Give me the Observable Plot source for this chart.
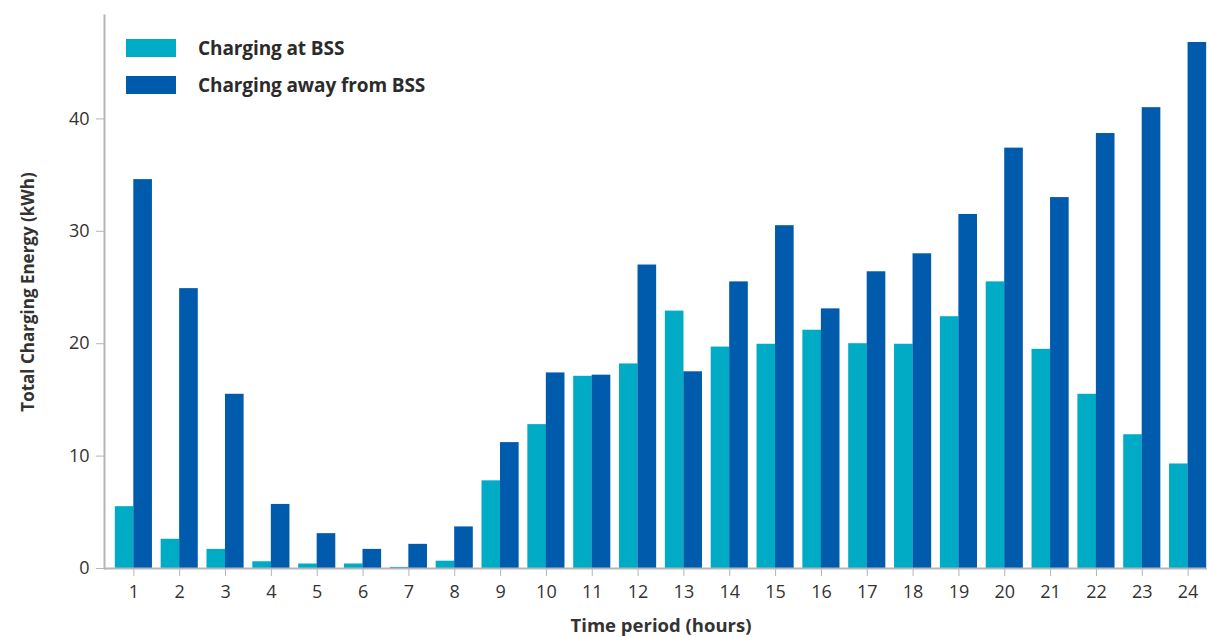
<!DOCTYPE html>
<html>
<head>
<meta charset="utf-8">
<script src="https://cdn.jsdelivr.net/npm/d3@7"></script>
<script src="https://cdn.jsdelivr.net/npm/@observablehq/plot@0.6"></script>
<style>
  html, body { margin: 0; padding: 0; background: #fff; }
  #wrap { position: relative; width: 1207px; height: 637px; overflow: hidden; font-family: "Open Sans", "Noto Sans", sans-serif; }
  #legend { position: absolute; left: 126px; top: 29px; font-weight: bold; font-size: 19px; color: #2b2b2b; letter-spacing: -0.1px; }
  .item { display: flex; align-items: center; height: 37px; }
  .sw { width: 50px; height: 18px; margin-right: 22px; }
</style>
</head>
<body>
<div id="wrap"><div id="legend"></div></div>
<script>
const hours = [1,2,3,4,5,6,7,8,9,10,11,12,13,14,15,16,17,18,19,20,21,22,23,24];
const atBSS = [5.5,2.6,1.7,0.6,0.4,0.4,0.1,0.65,7.8,12.8,17.1,18.2,22.9,19.7,19.95,21.2,20.0,19.95,22.4,25.5,19.5,15.5,11.9,9.3];
const awayBSS = [34.6,24.9,15.5,5.7,3.1,1.7,2.15,3.7,11.2,17.4,17.2,27.0,17.5,25.5,30.5,23.1,26.4,28.0,31.5,37.4,33.0,38.7,41.0,46.8];
const seriesNames = ["Charging at BSS", "Charging away from BSS"];
const seriesColors = ["#00abc5", "#005bac"];
const yTicks = [0, 10, 20, 30, 40];

const rowsA = hours.map((h, i) => ({hour: h, value: atBSS[i]}));
const rowsB = hours.map((h, i) => ({hour: h, value: awayBSS[i]}));

const axisGray = "#b5b5b5";
const textCol = "#333333";

const chart = Plot.plot({
  width: 1207,
  height: 637,
  marginLeft: 104,
  marginRight: -10,
  marginTop: 15,
  marginBottom: 69,
  style: {fontFamily: "'Open Sans', 'Noto Sans', sans-serif", fontSize: "18px", color: textCol, background: "#fff"},
  x: {type: "band", domain: hours, paddingInner: 0.19, paddingOuter: 0.236, round: false},
  y: {domain: [0, 49.2]},
  marks: [
    Plot.barY(rowsA, {x: "hour", y: "value", fill: seriesColors[0], insetRight: 18.5}),
    Plot.barY(rowsB, {x: "hour", y: "value", fill: seriesColors[1], insetLeft: 18.5}),
    Plot.ruleY([0], {stroke: axisGray, strokeWidth: 2}),
    Plot.axisY({ticks: yTicks, tickSize: 8, tickPadding: 7, stroke: axisGray, fill: textCol, fontSize: 18, label: null}),
    Plot.axisX({tickSize: 8, tickPadding: 9, stroke: axisGray, fill: textCol, fontSize: 18, label: null}),
    Plot.axisY({ticks: [], label: "Total Charging Energy (kWh)", labelArrow: "none", labelAnchor: "center", labelOffset: 83, fontWeight: "bold", fontSize: 17, fill: textCol, tickSize: 0}),
    Plot.axisX({ticks: [], label: "Time period (hours)", labelArrow: "none", labelAnchor: "center", labelOffset: 63, fontWeight: "bold", fontSize: 18.5, fill: textCol, tickSize: 0, dx: 7}),
    Plot.frame({anchor: "left", stroke: axisGray, strokeWidth: 2})
  ]
});
const wrap = document.getElementById("wrap");
wrap.insertBefore(chart, wrap.firstChild);
const legend = document.getElementById("legend");
seriesNames.forEach((n, i) => {
  const d = document.createElement("div");
  d.className = "item";
  d.innerHTML = `<span class="sw" style="background:${seriesColors[i]}"></span><span>${n}</span>`;
  legend.appendChild(d);
});
</script>
</body>
</html>
